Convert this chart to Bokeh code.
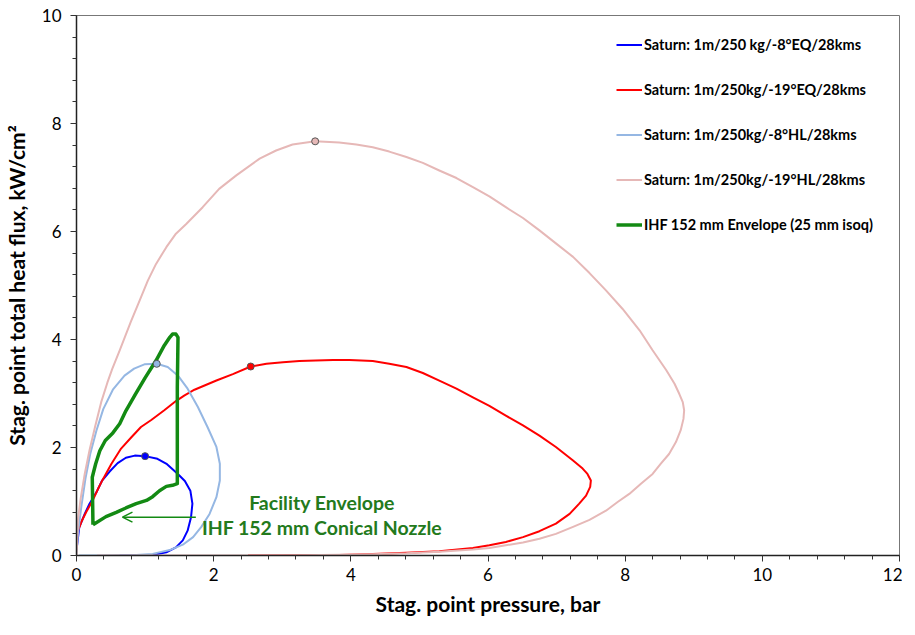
from bokeh.plotting import figure
from bokeh.models import (ColumnDataSource, Range1d, SingleIntervalTicker, Legend,
                          LegendItem, Arrow, OpenHead)
from bokeh.core.properties import value
from bokeh.embed import file_html
from bokeh.resources import INLINE

FONT = "Lato"

# Saturn: 1m/250 kg/-8°EQ/28kms
eq8_p = [0.0, 0.04, 0.12, 0.19, 0.29, 0.37, 0.48, 0.6, 0.72, 0.85, 1.0, 1.18, 1.32, 1.47,
         1.58, 1.66, 1.69, 1.67, 1.62, 1.55, 1.45, 1.31, 1.11, 0.87, 0.63]
eq8_q = [0.1, 0.52, 0.77, 0.96, 1.17, 1.38, 1.55, 1.71, 1.81, 1.85, 1.84, 1.79, 1.69, 1.52,
         1.38, 1.2, 0.96, 0.71, 0.46, 0.28, 0.15, 0.06, 0.01, 0.0, 0.0]

# Saturn: 1m/250kg/-19°EQ/28kms
eq19_p = [0.0, 0.004, 0.07, 0.14, 0.24, 0.32, 0.38, 0.51, 0.65, 0.8, 0.94, 1.09, 1.28, 1.45,
          1.57, 1.72, 2.04, 2.28, 2.54, 2.77, 3.01, 3.25, 3.49, 3.74, 3.98, 4.32, 4.56, 4.81,
          5.05, 5.29, 5.54, 5.78, 6.02, 6.26, 6.51, 6.75, 6.99, 7.24, 7.38, 7.45, 7.5, 7.49,
          7.43, 7.33, 7.19, 6.99, 6.75, 6.51, 6.26, 6.02, 5.78, 5.29, 4.81, 4.32, 3.83, 3.0,
          2.5]
eq19_q = [0.1, 0.4, 0.62, 0.8, 1.03, 1.25, 1.4, 1.7, 1.98, 2.19, 2.38, 2.51, 2.69, 2.86,
          2.96, 3.07, 3.24, 3.36, 3.5, 3.55, 3.58, 3.6, 3.61, 3.62, 3.62, 3.6, 3.55, 3.49,
          3.38, 3.24, 3.09, 2.93, 2.77, 2.59, 2.41, 2.22, 2.01, 1.76, 1.61, 1.51, 1.39, 1.27,
          1.11, 0.96, 0.77, 0.59, 0.45, 0.34, 0.25, 0.19, 0.14, 0.08, 0.05, 0.03, 0.01, 0.0,
          0.0]

# Saturn: 1m/250kg/-8°HL/28kms
hl8_p = [0.0, 0.02, 0.07, 0.13, 0.2, 0.29, 0.39, 0.53, 0.7, 0.84, 0.99, 1.17, 1.33, 1.48,
         1.62, 1.77, 1.91, 2.04, 2.09, 2.09, 2.04, 1.94, 1.82, 1.7, 1.55, 1.36, 1.11, 0.87,
         0.38, 0.04]
hl8_q = [0.03, 0.4, 0.9, 1.42, 1.88, 2.31, 2.71, 3.07, 3.33, 3.46, 3.54, 3.55, 3.49, 3.33,
         3.09, 2.75, 2.38, 2.01, 1.7, 1.39, 1.08, 0.77, 0.53, 0.34, 0.2, 0.1, 0.03, 0.01,
         0.0, 0.0]

# Saturn: 1m/250kg/-19°HL/28kms
hl19_p = [0.0, 0.01, 0.02, 0.06, 0.12, 0.19, 0.27, 0.36, 0.45, 0.52, 0.63, 0.79, 0.92, 1.04,
          1.16, 1.31, 1.45, 1.6, 1.84, 2.08, 2.33, 2.67, 2.91, 3.15, 3.48, 3.83, 4.08, 4.32,
          4.56, 4.81, 5.05, 5.29, 5.54, 5.78, 6.02, 6.26, 6.51, 6.75, 6.99, 7.24, 7.48, 7.72,
          7.96, 8.21, 8.4, 8.6, 8.72, 8.79, 8.84, 8.86, 8.85, 8.81, 8.74, 8.64, 8.52, 8.4,
          8.23, 8.06, 7.89, 7.72, 7.48, 7.24, 6.99, 6.75, 6.51, 6.26, 6.02, 5.78, 5.29, 4.81,
          4.32, 3.83, 3.0, 2.0, 1.0, 0.3]
hl19_q = [0.0, 0.3, 0.65, 1.05, 1.51, 1.95, 2.38, 2.84, 3.2, 3.45, 3.8, 4.32, 4.72, 5.09,
          5.4, 5.71, 5.96, 6.14, 6.45, 6.79, 7.04, 7.35, 7.5, 7.61, 7.67, 7.65, 7.61, 7.56,
          7.48, 7.38, 7.27, 7.13, 6.99, 6.82, 6.65, 6.45, 6.25, 6.02, 5.78, 5.53, 5.23, 4.91,
          4.57, 4.17, 3.8, 3.43, 3.18, 2.99, 2.84, 2.69, 2.53, 2.32, 2.1, 1.88, 1.7, 1.51,
          1.33, 1.14, 0.99, 0.83, 0.66, 0.53, 0.4, 0.31, 0.24, 0.19, 0.14, 0.11, 0.07, 0.04,
          0.025, 0.012, 0.0, 0.0, 0.0, 0.0]

# IHF 152 mm Envelope (25 mm isoq)
ihf_p = [0.24, 0.23, 0.25, 0.28, 0.34, 0.42, 0.53, 0.63, 0.72, 0.86, 1.0, 1.16, 1.28, 1.36,
         1.4, 1.45, 1.48, 1.47, 1.47, 1.4, 1.31, 1.21, 1.11, 1.02, 0.87, 0.72, 0.58, 0.43,
         0.24]
ihf_q = [0.57, 1.45, 1.55, 1.7, 1.94, 2.13, 2.27, 2.44, 2.68, 2.99, 3.29, 3.61, 3.89, 4.04,
         4.1, 4.1, 4.04, 3.12, 1.33, 1.3, 1.28, 1.2, 1.09, 1.02, 0.96, 0.88, 0.8, 0.72,
         0.57]

# peak markers
peak_p = [1.0, 2.54, 1.17, 3.48]
peak_q = [1.84, 3.5, 3.55, 7.67]

labels = ["Saturn: 1m/250 kg/-8°EQ/28kms", "Saturn: 1m/250kg/-19°EQ/28kms",
          "Saturn: 1m/250kg/-8°HL/28kms", "Saturn: 1m/250kg/-19°HL/28kms",
          "IHF 152 mm Envelope (25 mm isoq)"]
colors = ["#0000ff", "#ff0000", "#95b7e3", "#e6b8b7", "#138a13"]

note_p = [3.58, 3.58]
note_q = [0.98, 0.52]
note_text = ["Facility Envelope", "IHF 152 mm Conical Nozzle"]
arrow_p = [1.74, 0.67]
arrow_q = 0.71

p = figure(width=899, height=619, output_backend="svg", toolbar_location=None,
           x_range=Range1d(0, 12), y_range=Range1d(0, 10),
           frame_width=823, frame_height=540,
           min_border_left=73, min_border_right=3, min_border_top=15, min_border_bottom=64)
p.background_fill_color = "white"
p.xgrid.visible = False
p.ygrid.visible = False
p.outline_line_color = "#777777"

for ax in (p.xaxis[0], p.yaxis[0]):
    ax.ticker = SingleIntervalTicker(interval=2, num_minor_ticks=5)
    ax.axis_line_color = "#222222"
    ax.axis_line_width = 1.5
    ax.major_tick_in = 0
    ax.major_tick_out = 6
    ax.minor_tick_in = 0
    ax.minor_tick_out = 4
    ax.major_tick_line_color = "#333333"
    ax.minor_tick_line_color = "#333333"
    ax.major_label_text_font = FONT
    ax.major_label_text_font_size = "17px"
    ax.major_label_text_color = "black"
    ax.axis_label_text_font = FONT
    ax.axis_label_text_font_size = "21px"
    ax.axis_label_text_font_style = "bold"
    ax.axis_label_text_color = "black"

p.xaxis.axis_label = "Stag. point pressure, bar"
p.yaxis.axis_label = "Stag. point total heat flux, kW/cm²"
p.xaxis.major_label_standoff = 6
p.yaxis.major_label_standoff = 9
p.xaxis.axis_label_standoff = 7
p.yaxis.axis_label_standoff = 10

series = [(eq8_p, eq8_q), (eq19_p, eq19_q), (hl8_p, hl8_q), (hl19_p, hl19_q)]
items = []
for (xs, ys), c, lab in zip(series, colors[:4], labels[:4]):
    r = p.line(xs, ys, line_color=c, line_width=2, line_join="round")
    items.append(LegendItem(label=lab, renderers=[r]))

g = p.line(ihf_p, ihf_q, line_color=colors[4], line_width=3.5, line_join="round")
items.append(LegendItem(label=labels[4], renderers=[g]))

p.scatter(peak_p, peak_q, size=7, fill_color=colors[:4], line_color="#555555", line_width=1)

p.add_layout(Arrow(end=OpenHead(size=10, line_color=colors[4], line_width=1.5),
                   x_start=arrow_p[0], y_start=arrow_q, x_end=arrow_p[1], y_end=arrow_q,
                   line_color=colors[4], line_width=1.5))

notes = ColumnDataSource(dict(x=note_p, y=note_q, t=note_text))
p.text("x", "y", text="t", source=notes, text_font=value(FONT), text_font_size="19.5px",
       text_font_style="bold", text_color="#237a1c", text_align="center",
       text_baseline="middle")

legend = Legend(items=items, location=(540, 320), padding=0, spacing=24,
                label_standoff=2, glyph_width=26, glyph_height=21, label_height=21,
                label_text_font=FONT, label_text_font_size="14.5px",
                label_text_font_style="bold", label_text_color="black",
                border_line_alpha=0, background_fill_alpha=0)
p.add_layout(legend)

open("out.html", "w").write(file_html(p, INLINE))
